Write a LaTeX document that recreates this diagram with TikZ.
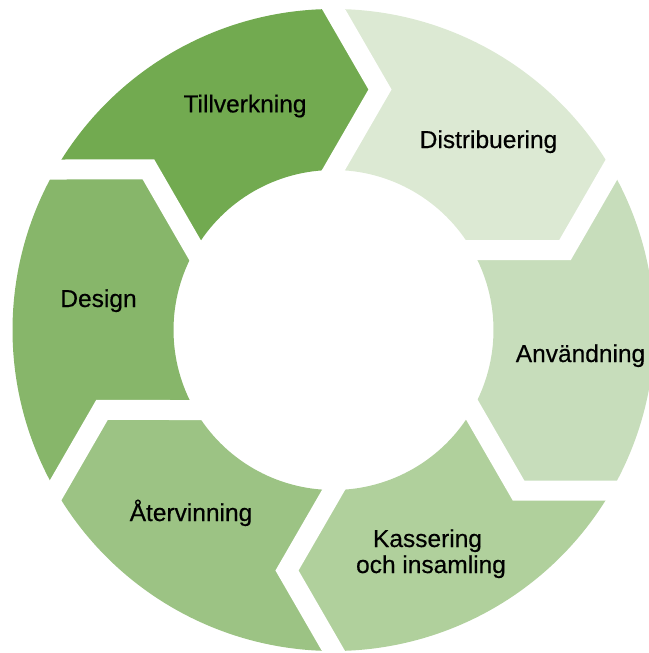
\documentclass[tikz,border=0pt]{standalone}
\usepackage{fontspec}
\setmainfont{Liberation Sans}
\newfontfamily\lblfont[FakeBold=0.4]{Liberation Sans}
\usetikzlibrary{calc}
\definecolor{cTill}{HTML}{72AA50}
\definecolor{cDist}{HTML}{DCE9D3}
\definecolor{cAnv}{HTML}{C7DDBB}
\definecolor{cKass}{HTML}{B0D09C}
\definecolor{cAter}{HTML}{9CC384}
\definecolor{cDes}{HTML}{87B66A}
\begin{document}
\begin{tikzpicture}[x=1pt,y=1pt,
  lbl/.style={font=\lblfont\fontsize{24.5}{28}\selectfont, anchor=base, text=black, inner sep=0pt},
  gapline/.style={white, line width=20pt, line join=miter, miter limit=10}]
\useasboundingbox (0,0) rectangle (648,-653);
\coordinate (c) at (333.5,-330);
\foreach \p/\k in {90/1,30/2,-30/3,-90/4,-150/5,150/6}{
  \coordinate (O\k) at ($(c)+(\p:321)$);
  \coordinate (I\k) at ($(c)+(\p:160)$);
  \coordinate (T\k) at ($(c)+(\p:240.5)+(\p-90:46.5)$);
}
% segments (clockwise flow)
\fill[cTill] (O6) arc[start angle=150, end angle=90, radius=321] -- (T1) -- (I1) arc[start angle=90, end angle=150, radius=160] -- (T6) -- cycle;
\fill[cDist] (O1) arc[start angle=90, end angle=30, radius=321] -- (T2) -- (I2) arc[start angle=30, end angle=90, radius=160] -- (T1) -- cycle;
\fill[cAnv] (O2) arc[start angle=30, end angle=-30, radius=321] -- (T3) -- (I3) arc[start angle=-30, end angle=30, radius=160] -- (T2) -- cycle;
\fill[cKass] (O3) arc[start angle=-30, end angle=-90, radius=321] -- (T4) -- (I4) arc[start angle=-90, end angle=-30, radius=160] -- (T3) -- cycle;
\fill[cAter] (O4) arc[start angle=-90, end angle=-150, radius=321] -- (T5) -- (I5) arc[start angle=-150, end angle=-90, radius=160] -- (T4) -- cycle;
\fill[cDes] (O5) arc[start angle=-150, end angle=-210, radius=321] -- (T6) -- (I6) arc[start angle=-210, end angle=-150, radius=160] -- (T5) -- cycle;
% gaps
\foreach \k in {1,...,6}{
  \draw[gapline] ($(T\k)!1.3!(O\k)$) -- (T\k) -- ($(T\k)!1.3!(I\k)$);
}
% labels
\node[lbl] (till) at (245,-112.4) {Tillverkning};
\node[lbl] (dist) at (488.5,-148) {Distribuering};
\node[lbl] (anv) at (580.5,-362) {Användning};
\node[lbl] (kass1) at (427.5,-547) {Kassering};
\node[lbl] (kass2) at (431,-573) {och insamling};
\node[lbl] (ater) at (191,-521) {Återvinning};
\node[lbl] (des) at (98.5,-307) {Design};
\end{tikzpicture}
\end{document}
